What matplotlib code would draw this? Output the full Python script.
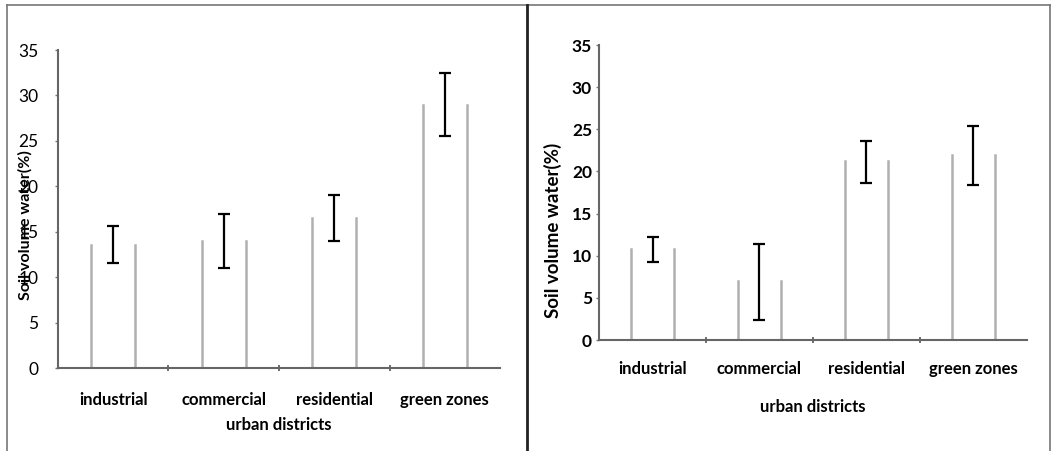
import matplotlib.pyplot as plt
import numpy as np
from matplotlib.lines import Line2D

# Datos
categorias = ["industrial", "commercial", "residential", "green zones"]

agua_panel1 = [13.5, 14.0, 16.5, 29.0]
error_panel1 = [2.0, 3.0, 2.5, 3.5]
centro_error_panel1 = [13.6, 14.0, 16.5, 29.0]

agua_panel2 = [10.8, 7.0, 21.2, 22.0]
error_panel2 = [1.5, 4.5, 2.5, 3.5]
centro_error_panel2 = [10.7, 6.9, 21.1, 21.9]

yticks = [0, 5, 10, 15, 20, 25, 30, 35]

plt.rcParams["font.family"] = ["Lato", "DejaVu Sans"]

fig = plt.figure(figsize=(10.52, 4.51), dpi=100)
fig.patch.set_facecolor("white")

ax1 = fig.add_axes([0.0551, 0.1840, 0.4202, 0.7051])
ax2 = fig.add_axes([0.5694, 0.2461, 0.4068, 0.6541])


def DibujarPanel(ax, valores, centros, errores, tickBold, padX, padXlabel, padY):
    x = np.arange(len(categorias))
    barras = ax.bar(x, valores, width=0.4, color="white", edgecolor="none")

    # solo los bordes verticales se ven en el escaneo
    for b in barras:
        for xx in (b.get_x(), b.get_x() + b.get_width()):
            ax.plot([xx, xx], [0, b.get_height()], color="#b0b0b0", lw=1.8, zorder=2)

    ax.errorbar(x, centros, yerr=errores, fmt="none", ecolor="black",
                elinewidth=1.6, capsize=4, capthick=1.6, zorder=3)

    ax.set_xlim(-0.5, len(categorias) - 0.5)
    ax.set_ylim(0, 35)
    ax.set_yticks(yticks)
    ax.set_yticklabels([str(v) for v in yticks], fontsize=12.5,
                       fontweight="bold" if tickBold else "normal")
    ax.set_xticks(x)
    ax.set_xticklabels(categorias, fontsize=12, fontweight="bold")
    ax.set_xticks(x[:-1] + 0.5, minor=True)
    ax.tick_params(axis="x", which="major", length=0, pad=padX)
    ax.tick_params(axis="x", which="minor", length=4, direction="inout", width=1.2, color="#555555")
    ax.tick_params(axis="y", length=2, width=1, color="#777777", pad=padY)

    for s in ["top", "right"]:
        ax.spines[s].set_visible(False)
    for s in ["left", "bottom"]:
        ax.spines[s].set_color("#666666")
        ax.spines[s].set_linewidth(1.5)

    ax.set_xlabel("urban districts", fontsize=12, fontweight="bold", labelpad=padXlabel)


DibujarPanel(ax1, agua_panel1, centro_error_panel1, error_panel1, False, 17, 7, 12)
DibujarPanel(ax2, agua_panel2, centro_error_panel2, error_panel2, True, 15, 16, 3)

ax1.set_ylabel("Soil volume water(%)", fontsize=11.5, fontweight="bold")
ax1.yaxis.set_label_coords(-0.057, 0.45)
ax2.set_ylabel("Soil volume water(%)", fontsize=13.5, fontweight="bold")
ax2.yaxis.set_label_coords(-0.087, 0.37)

# marco exterior y separador entre paneles
for xs, ys, lw, col in [([0.0067, 0.0067], [0.0, 0.989], 1.2, "#777777"),
                        ([0.0067, 0.998], [0.989, 0.989], 1.2, "#777777"),
                        ([0.501, 0.501], [0.0, 0.989], 2.0, "#222222"),
                        ([0.998, 0.998], [0.0, 0.989], 1.2, "#777777")]:
    fig.add_artist(Line2D(xs, ys, transform=fig.transFigure, color=col, lw=lw))

fig.savefig("out.png", dpi=100)
